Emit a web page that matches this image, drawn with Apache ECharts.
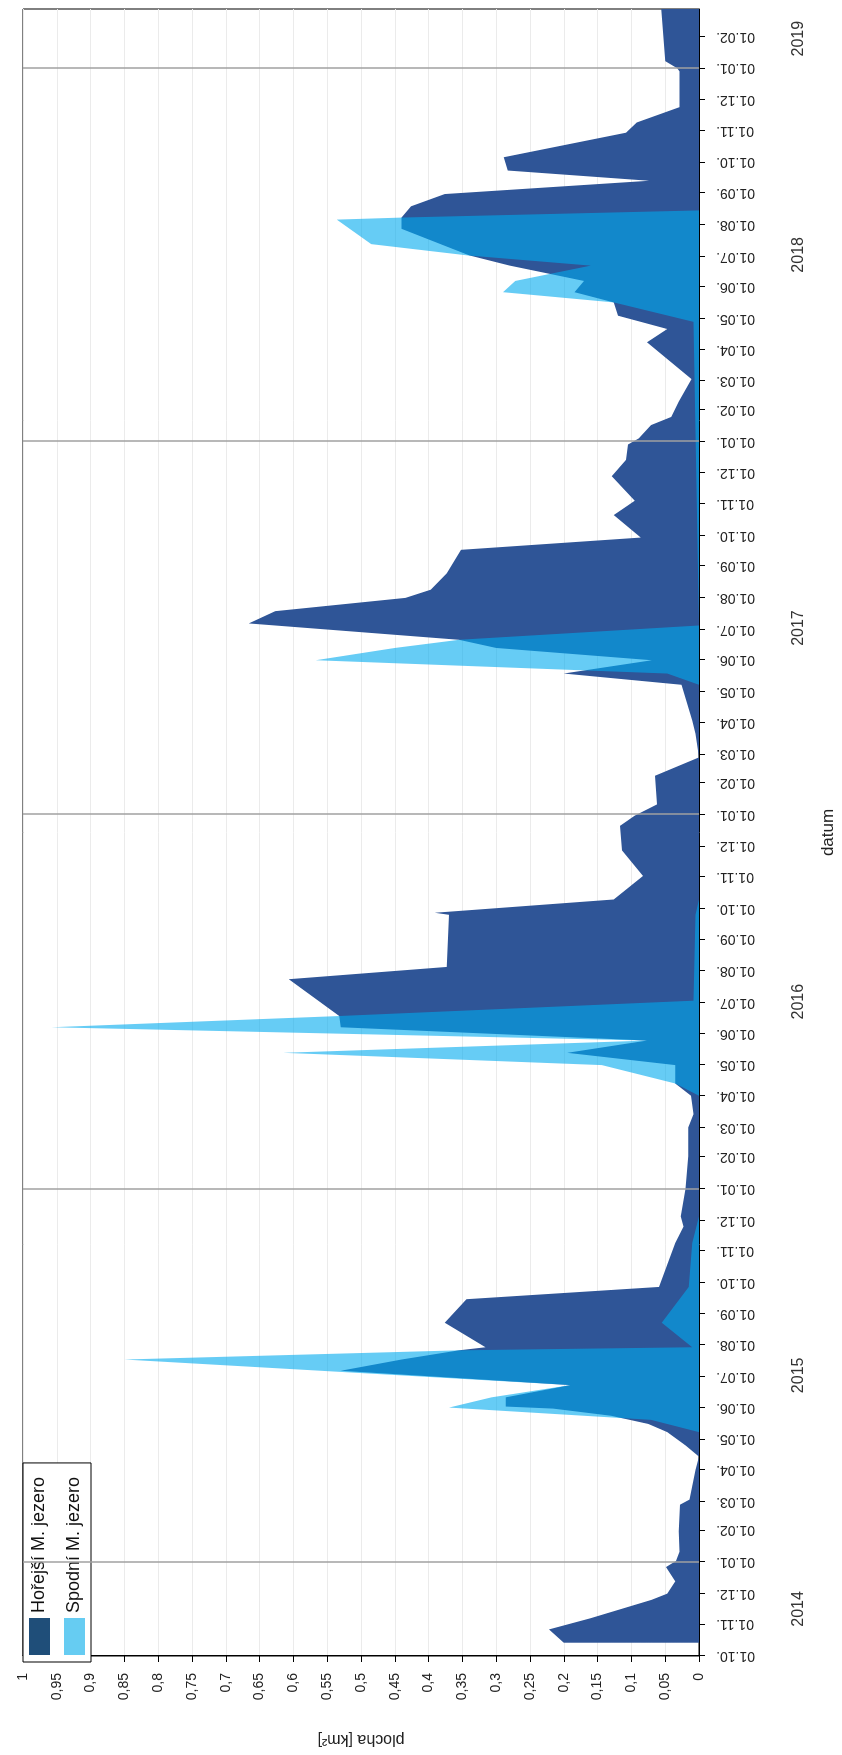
<!DOCTYPE html>
<html>
<head>
<meta charset="utf-8">
<script src="https://cdn.jsdelivr.net/npm/echarts@6.0.0/dist/echarts.min.js"></script>
<style>
html, body { margin: 0; padding: 0; background: #fff; overflow: hidden; }
#wrap { position: absolute; left: 0; top: 0; width: 842px; height: 1755px; overflow: hidden; }
/* chart is drawn landscape, then turned a quarter counter-clockwise */
#chart { position: absolute; left: 0; top: 0; width: 1755px; height: 842px;
         transform-origin: 0 0; transform: translate(0, 1755px) rotate(-90deg); }
</style>
</head>
<body>
<div id="wrap"><div id="chart"></div></div>
<script>
var seriesNames = ['Hořejší M. jezero', 'Spodní M. jezero'];
var yearLabels = ['2014', '2015', '2016', '2017', '2018', '2019'];
var yearLines = ['2015-01-01', '2016-01-01', '2017-01-01', '2018-01-01', '2019-01-01'];
var axisMin = '2014-10-01';
var axisMax = '2019-02-28';

// Hořejší M. jezero
var hDates = [
  '2014-10-14', '2014-10-27', '2014-11-07', '2014-11-25', '2014-12-01', '2014-12-13', '2014-12-27',
  '2015-01-02', '2015-01-11', '2015-01-31', '2015-02-26', '2015-03-03', '2015-04-01', '2015-04-14',
  '2015-04-25', '2015-05-08', '2015-05-16', '2015-05-24', '2015-05-31', '2015-06-02', '2015-06-11',
  '2015-06-23', '2015-07-07', '2015-07-18', '2015-07-27', '2015-07-30', '2015-08-23', '2015-09-15',
  '2015-09-27', '2015-11-09', '2015-11-25', '2015-12-05',
  '2016-01-01', '2016-02-02', '2016-03-01', '2016-03-14', '2016-04-01', '2016-04-13', '2016-05-01',
  '2016-05-13', '2016-05-25', '2016-06-07', '2016-06-18', '2016-07-24', '2016-08-05', '2016-09-25',
  '2016-09-27', '2016-10-10', '2016-11-02', '2016-11-27', '2016-12-21', '2016-12-31',
  '2017-01-11', '2017-02-08', '2017-02-26', '2017-03-21', '2017-04-03', '2017-05-08', '2017-05-19',
  '2017-06-01', '2017-06-13', '2017-06-21', '2017-07-07', '2017-07-19', '2017-08-01', '2017-08-09',
  '2017-08-25', '2017-09-17', '2017-09-29', '2017-10-21', '2017-11-04', '2017-11-28', '2017-12-14',
  '2017-12-29',
  '2018-01-04', '2018-01-17', '2018-01-25', '2018-02-09', '2018-03-03', '2018-04-08', '2018-04-21',
  '2018-05-04', '2018-05-17', '2018-05-27', '2018-06-07', '2018-06-22', '2018-07-02', '2018-07-28',
  '2018-08-08', '2018-08-19', '2018-08-31', '2018-09-13', '2018-09-23', '2018-10-06', '2018-10-30',
  '2018-11-09', '2018-11-24', '2018-12-29',
  '2019-01-01', '2019-01-08', '2019-02-28'
];
var hValues = [
  0.20, 0.222, 0.16, 0.07, 0.047, 0.035, 0.049,
  0.034, 0.029, 0.03, 0.028, 0.014, 0.005, 0.0,
  0.02, 0.047, 0.075, 0.13, 0.216, 0.286, 0.286,
  0.19, 0.53, 0.44, 0.355, 0.316, 0.376, 0.344,
  0.059, 0.035, 0.023, 0.027,
  0.02, 0.016, 0.016, 0.008, 0.012, 0.035, 0.035,
  0.195, 0.077, 0.53, 0.532, 0.607, 0.373, 0.37,
  0.391, 0.126, 0.083, 0.114, 0.117, 0.095,
  0.062, 0.065, 0.0, 0.005, 0.01, 0.026, 0.2,
  0.07, 0.30, 0.355, 0.666, 0.627, 0.434, 0.397,
  0.373, 0.352, 0.086, 0.126, 0.095, 0.129, 0.108,
  0.105,
  0.089, 0.071, 0.041, 0.03, 0.011, 0.077, 0.047,
  0.12, 0.126, 0.184, 0.17, 0.28, 0.34, 0.44,
  0.44, 0.426, 0.376, 0.074, 0.283, 0.289, 0.108,
  0.092, 0.029, 0.029,
  0.032, 0.05, 0.056
];

// Spodní M. jezero
var sDates = [
  '2014-10-14', '2015-05-08', '2015-05-20', '2015-06-01', '2015-06-11', '2015-06-23', '2015-07-18',
  '2015-07-27', '2015-07-30', '2015-08-23', '2015-09-27', '2015-11-09', '2015-12-05',
  '2016-04-01', '2016-04-13', '2016-05-01', '2016-05-13', '2016-05-25', '2016-06-07', '2016-06-18',
  '2016-07-03', '2016-09-25', '2016-10-10',
  '2017-05-08', '2017-05-19', '2017-06-01', '2017-06-13', '2017-06-21', '2017-07-05',
  '2018-04-28', '2018-05-17', '2018-05-27', '2018-06-07', '2018-06-22', '2018-07-02', '2018-07-13',
  '2018-08-06', '2018-08-08', '2018-08-15', '2019-02-28'
];
var sValues = [
  0, 0, 0.071, 0.37, 0.307, 0.19, 0.85,
  0.355, 0.01, 0.055, 0.015, 0.01, 0,
  0, 0.035, 0.144, 0.615, 0.077, 0.958, 0.532,
  0.008, 0.005, 0,
  0, 0.047, 0.567, 0.45, 0.355, 0,
  0.008, 0.126, 0.29, 0.272, 0.16, 0.343, 0.485,
  0.536, 0.44, 0, 0
];

function pairs(dates, values) {
  return dates.map(function (d, i) { return [d, values[i]]; });
}
function pad(n) { return n < 10 ? '0' + n : '' + n; }
function localTime(s) { return new Date(s.replace(/-/g, '/')).getTime(); }

var chart = echarts.init(document.getElementById('chart'));

var option = {
  animation: false,
  backgroundColor: '#fff',
  textStyle: { fontFamily: 'Liberation Sans, Arial, sans-serif' },
  grid: { left: 93, right: 9, top: 23, bottom: 133, show: true, borderColor: '#000', borderWidth: 1 },
  legend: {
    data: [
      { name: seriesNames[0], itemStyle: { color: '#1F4E79' } },
      { name: seriesNames[1], itemStyle: { color: '#66CCF2' } }
    ],
    orient: 'vertical',
    left: 93,
    top: 23,
    icon: 'rect',
    itemWidth: 37,
    itemHeight: 21,
    itemGap: 14,
    padding: [6, 14, 6, 7],
    backgroundColor: '#fff',
    borderColor: '#000',
    borderWidth: 1,
    borderRadius: 0,
    textStyle: { fontSize: 18, color: '#111' }
  },
  xAxis: {
    type: 'time',
    min: axisMin,
    max: axisMax,
    splitNumber: 52,
    minInterval: 28 * 86400000,
    maxInterval: 31 * 86400000,
    name: 'datum',
    nameLocation: 'middle',
    nameGap: 121,
    nameTextStyle: { fontSize: 17, color: '#222' },
    axisLine: { show: true, onZero: false, lineStyle: { color: '#000', width: 1 } },
    axisTick: { show: true, length: 6, lineStyle: { color: '#000' } },
    axisLabel: {
      rotate: 90,
      fontSize: 14,
      color: '#222',
      margin: 17,
      showMinLabel: true,
      hideOverlap: false,
      formatter: function (val) {
        var d = new Date(val);
        return '01.' + pad(d.getMonth() + 1) + '.';
      }
    },
    splitLine: { show: false }
  },
  yAxis: {
    type: 'value',
    min: 0,
    max: 1,
    interval: 0.05,
    name: 'plocha [km²]',
    nameLocation: 'middle',
    nameGap: 75,
    nameRotate: 90,
    nameTextStyle: { fontSize: 16, color: '#222' },
    axisLine: { show: true, lineStyle: { color: '#000' } },
    axisTick: { show: true, length: 6, lineStyle: { color: '#000' } },
    axisLabel: {
      fontSize: 14,
      color: '#222',
      margin: 17,
      formatter: function (v) { return String(+v.toFixed(2)).replace('.', ','); }
    },
    splitLine: { show: true, lineStyle: { color: '#ebebeb', width: 1 } }
  },
  series: [
    {
      name: 'years',
      type: 'line',
      data: [],
      z: 1,
      markLine: {
        silent: true,
        symbol: 'none',
        label: { show: false },
        lineStyle: { color: '#a0a0a0', width: 1.5, type: 'solid' },
        data: yearLines.map(function (d) { return { xAxis: d }; })
      }
    },
    {
      name: seriesNames[0],
      type: 'line',
      data: pairs(hDates, hValues),
      symbol: 'none',
      lineStyle: { width: 0 },
      itemStyle: { color: '#2F5597' },
      areaStyle: { color: '#2F5597', opacity: 1 },
      z: 2
    },
    {
      name: seriesNames[1],
      type: 'line',
      data: pairs(sDates, sValues),
      symbol: 'none',
      lineStyle: { width: 0 },
      itemStyle: { color: '#00AAEE' },
      areaStyle: { color: '#00AAEE', opacity: 0.6 },
      z: 3
    }
  ]
};
chart.setOption(option);

// year captions centred under each year's part of the axis
var minT = localTime(axisMin), maxT = localTime(axisMax);
var yearText = yearLabels.map(function (y) {
  var a = Math.max(minT, new Date(+y, 0, 1).getTime());
  var b = Math.min(maxT, new Date(+y + 1, 0, 1).getTime());
  var px = chart.convertToPixel({ xAxisIndex: 0 }, (a + b) / 2);
  return {
    type: 'text',
    x: px,
    y: 799,
    style: { text: y, fontSize: 16, fill: '#333', align: 'center', verticalAlign: 'middle',
             fontFamily: 'Liberation Sans, Arial, sans-serif' }
  };
});
chart.setOption({ graphic: yearText });
</script>
</body>
</html>
